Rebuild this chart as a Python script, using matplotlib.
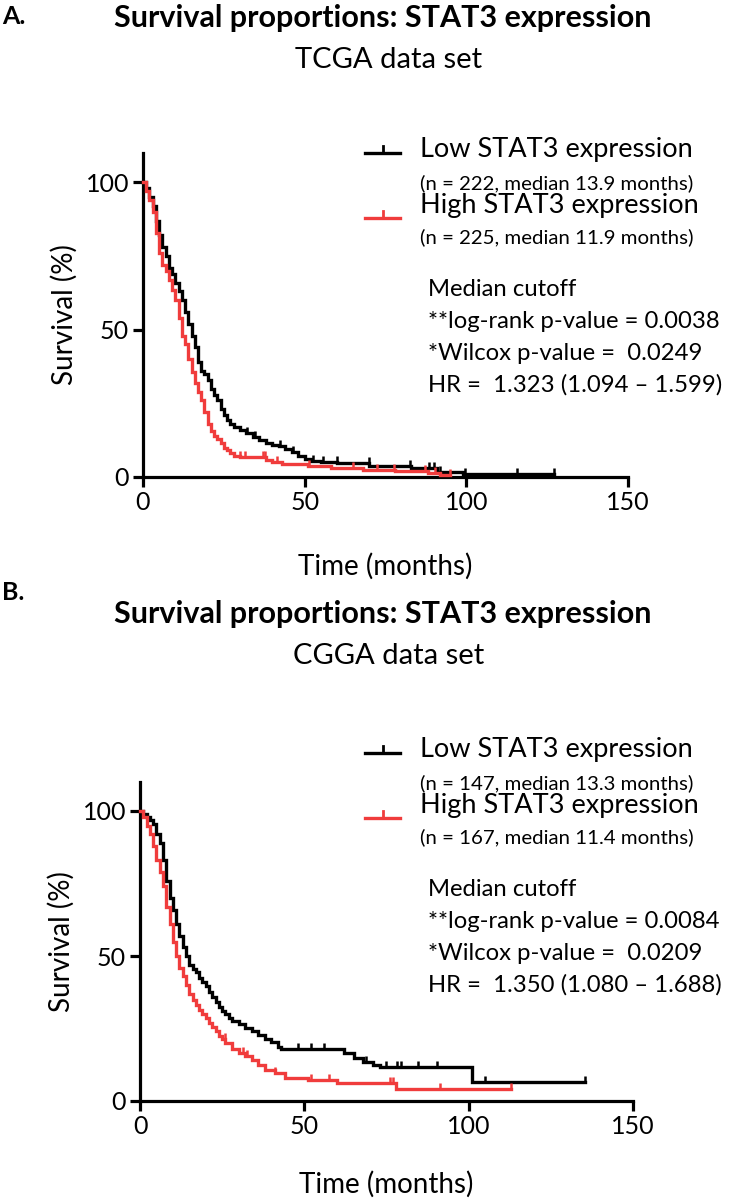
import numpy as np
import matplotlib
matplotlib.use("Agg")
import matplotlib.pyplot as plt
from matplotlib.lines import Line2D
from matplotlib.path import Path

plt.rcParams['font.family'] = ['Lato', 'DejaVu Sans']

# ---------------- data ----------------
# Panel A: TCGA
a_low_t = [0, 1, 2, 3, 4, 5, 6, 7, 8, 9, 10, 11, 12, 13, 14, 15, 16, 17, 18, 19, 20, 21, 22, 23, 24, 25, 26, 27, 28, 30, 32, 34, 36, 38, 40, 42, 44, 46, 48, 50, 52, 55, 60, 70, 83, 91, 99, 127]
a_low_s = [100, 98, 95, 92, 87, 82, 78, 75, 71, 69, 66, 63, 60, 56, 52, 48, 44, 39, 36, 35, 33, 30, 28, 26, 23, 21, 19.5, 18, 17, 16, 15, 13.5, 12.5, 11.5, 11, 10.5, 9.5, 8.5, 7, 6, 5.3, 5, 4.6, 3.7, 2.9, 1.8, 1.0, 1.0]
a_low_cens = [32.1, 34.7, 42.4, 46.5, 52.7, 55.8, 59.9, 69.8, 82.7, 88.3, 89.9, 91.9, 99.7, 115.7, 127]

a_high_t = [0, 1, 2, 3, 4, 5, 6, 7, 8, 9, 10, 11, 12, 13, 14, 15, 16, 17, 18, 19, 20, 21, 22, 23, 24, 25, 26, 27, 28, 30, 38, 40, 43, 51, 58, 68, 78, 88, 92, 95]
a_high_s = [100, 97, 94, 90, 83, 76, 72, 70, 67, 63.5, 60, 54, 48, 45, 40, 35.5, 32, 29, 26, 22, 18, 15.5, 14, 13, 11.5, 10, 9, 8, 7.2, 6.9, 5.8, 5.2, 4.4, 3.7, 2.9, 2.4, 1.9, 1.4, 0.8, 0.8]
a_high_cens = [30.0, 31.6, 37.0, 37.6, 41.4, 51.2, 65.1, 72.3, 77.5, 87.3, 90.4, 95]

# Panel B: CGGA
b_low_t = [0, 1, 2, 3, 4, 5, 6, 7, 8, 9, 10, 11, 12, 13, 14, 15, 16, 17, 18, 19, 20, 21, 22, 23, 24, 25, 26, 27, 28, 30, 32, 34, 36, 38, 40, 42, 43, 62, 65, 68, 71, 73, 101, 135.5]
b_low_s = [100, 99, 98, 97, 95.5, 92, 89, 83, 76, 70, 66, 61, 57, 53, 50, 47, 45.5, 44.5, 42.5, 41, 39.5, 37.5, 36, 34, 32.5, 31, 30, 28.5, 27.5, 26.5, 25.2, 24, 22.8, 21.5, 20.5, 18.5, 17.8, 16.4, 15, 13.5, 12.5, 11.6, 6.7, 6.7]
b_low_cens = [48, 52, 56, 68.7, 74.7, 78.3, 79.3, 84.6, 90.3, 105, 135.5]

b_high_t = [0, 1, 2, 3, 4, 5, 6, 7, 8, 9, 10, 11, 12, 13, 14, 15, 16, 17, 18, 19, 20, 21, 22, 23, 24, 25, 26, 28, 30, 32, 34, 36, 38, 41, 44, 51, 60, 78, 113]
b_high_s = [100, 98, 95, 92, 88, 83, 79, 74, 67, 61, 55, 50, 46, 43, 40, 37, 35, 33, 31.5, 30, 28.5, 27, 25.5, 24, 22.5, 21.5, 20, 18, 16.5, 15.5, 14, 12.5, 10.7, 9.5, 7.8, 7.2, 6.1, 4.1, 4.1]
b_high_cens = [25.8, 31.3, 32.5, 41, 44, 52, 57.6, 76, 77, 91.4, 113]

x_ticks = [0, 50, 100, 150]
y_ticks = [0, 50, 100]

panels = [
    dict(letter="A.", title="Survival proportions: STAT3 expression", sub="TCGA data set",
         low=(a_low_t, a_low_s, a_low_cens), high=(a_high_t, a_high_s, a_high_cens),
         n_low="(n = 222, median 13.9 months)", n_high="(n = 225, median 11.9 months)",
         stats=["Median cutoff", "**log-rank p-value = 0.0038", "*Wilcox p-value =  0.0249",
                "HR =  1.323 (1.094 \u2013 1.599)"]),
    dict(letter="B.", title="Survival proportions: STAT3 expression", sub="CGGA data set",
         low=(b_low_t, b_low_s, b_low_cens), high=(b_high_t, b_high_s, b_high_cens),
         n_low="(n = 147, median 13.3 months)", n_high="(n = 167, median 11.4 months)",
         stats=["Median cutoff", "**log-rank p-value = 0.0084", "*Wilcox p-value =  0.0209",
                "HR =  1.350 (1.080 \u2013 1.688)"]),
]

BLACK = "#000000"
RED = "#f03c3c"
W, H = 750, 1200
fig = plt.figure(figsize=(7.5, 12), dpi=100)

def fx(px):
    return px / W

def fy(py):
    return 1 - py / H

tick_marker = Path([(0, 0), (0, 1)], [Path.MOVETO, Path.LINETO])

layouts = [
    dict(left=143, right=628, y0=477, ytop=153, base=0, letter_y=16, title_y=18, sub_y=60, xpad=28),
    dict(left=140, right=633, y0=1101, ytop=782, base=600, letter_y=592, title_y=614, sub_y=656, xpad=24),
]

for p, L in zip(panels, layouts):
    ax = fig.add_axes([fx(L['left']), fy(L['y0']), fx(L['right'] - L['left']),
                       (L['y0'] - L['ytop']) / H])
    for (t, s, c), col in ((p['low'], BLACK), (p['high'], RED)):
        t = np.asarray(t, float)
        s = np.asarray(s, float)
        ax.plot(t, s, drawstyle='steps-post', color=col, lw=2.4, solid_joinstyle='miter',
                clip_on=False, zorder=3)
        c = np.asarray(c, float)
        idx = np.clip(np.searchsorted(t, c, side='right') - 1, 0, len(s) - 1)
        ax.plot(c, s[idx], ls='none', marker=tick_marker, markersize=9, mew=1.8,
                color=col, clip_on=False, zorder=3)
    ax.set_xlim(0, 150)
    ax.set_ylim(0, 110)
    ax.set_xticks(x_ticks)
    ax.set_yticks(y_ticks)
    for sp in ('top', 'right'):
        ax.spines[sp].set_visible(False)
    for sp in ('left', 'bottom'):
        ax.spines[sp].set_linewidth(2.3)
    ax.tick_params(width=2.3, length=7, labelsize=18, pad=3, direction='out')
    ax.set_ylabel("Survival (%)", fontsize=20, labelpad=6)
    ax.set_xlabel("Time (months)", fontsize=20, labelpad=L['xpad'])

    fig.text(fx(2), fy(L['letter_y']), p['letter'], fontsize=18, fontweight='bold', va='center', ha='left')
    fig.text(fx(383), fy(L['title_y']), p['title'], fontsize=22, fontweight='bold', va='center', ha='center')
    fig.text(fx(389), fy(L['sub_y']), p['sub'], fontsize=21, va='center', ha='center')

    base = L['base']
    rows = [(153 + base, BLACK, "Low STAT3 expression", p['n_low'], 183 + base, 150 + base),
            (218 + base, RED, "High STAT3 expression", p['n_high'], 237 + base, 205 + base)]
    for ly, col, lab, nlab, ny, ty in rows:
        fig.add_artist(Line2D([fx(365), fx(400)], [fy(ly), fy(ly)], color=col, lw=2.4,
                              transform=fig.transFigure))
        fig.add_artist(Line2D([fx(382.5), fx(382.5)], [fy(ly), fy(ly - 7)], color=col, lw=2.0,
                              transform=fig.transFigure))
        fig.text(fx(420), fy(ty), lab, fontsize=19.5, va='center', ha='left')
        fig.text(fx(420), fy(ny), nlab, fontsize=14.7, va='center', ha='left')
    for i, line in enumerate(p['stats']):
        fig.text(fx(428), fy(290 + base + i * 31.5), line, fontsize=17.2, va='center', ha='left')

fig.savefig("out.png", dpi=100)
